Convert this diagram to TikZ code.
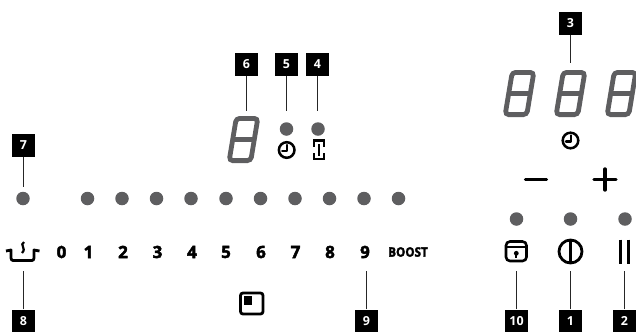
\documentclass[tikz,border=0pt]{standalone}
\usepackage{fontspec}
\setmainfont{Open Sans}[BoldFeatures={FakeBold=2.6}]
\newfontfamily\tagfont{Open Sans Bold}
\definecolor{dotc}{HTML}{5E5E60}
\tikzset{
  x=1bp,y=-1bp,
  tag/.style={fill=black,text=white,minimum width=23bp,minimum height=22.5bp,inner sep=0pt,font=\fontsize{12.5}{13}\tagfont},
  lead/.style={line width=1.3bp,draw=black!85},
  dot/.style={circle,fill=dotc,minimum size=13.5bp,inner sep=0pt},
  num/.style={inner sep=0pt,font=\fontsize{17}{17}\selectfont\bfseries},
  icon/.style={line width=2.5bp,draw=black},
  seg/.style={line width=4.8bp,draw=dotc,rounded corners=3.5bp}
}
\newcommand{\sevenseg}[2]{%
  \begin{scope}[shift={(#1,#2)}]
    \draw[seg] (9.2,2.4) -- (30.8,2.4) -- (23.8,44.6) -- (2.2,44.6) -- cycle;
    \draw[line width=4.6bp,draw=dotc] (5.7,23.5) -- (27.3,23.5);
  \end{scope}}
\newcommand{\clockicon}[2]{%
  \begin{scope}[shift={(#1,#2)}]
    \draw[icon] (0,0) circle (7.8);
    \draw[icon,line cap=round,line join=round] (0.3,-5) -- (0.3,0.8) -- (-4.5,0.8);
  \end{scope}}
\begin{document}
\begin{tikzpicture}
\useasboundingbox (0,0) rectangle (636,332);
% seven-segment displays
\sevenseg{227}{116}
\sevenseg{503}{70}
\sevenseg{554}{70}
\sevenseg{605}{70}
% lit dots
\foreach \n/\x/\y in {d7/23/198.5,a/87.5/198.5,b/122/198.5,c/156.5/198.5,d/191/198.5,e/226/198.5,f/260.5/198.5,g/295/198.5,h/329.5/198.5,i/364/198.5,j/398.5/198.5,d5/286.5/129,d4/318/129,d10/516.5/219,d1/570.5/219,d2/625/219}
  \node[dot] (\n) at (\x,\y) {};
% digits
\foreach \t/\x in {0/61.5,1/88.5,2/123,3/157.5,4/192,5/226,6/261,7/295.5,8/330,9/365}
  \node[num] (n\t) at (\x,252) {\t};
\node[inner sep=0pt,font=\fontsize{13}{14}\selectfont\bfseries,xscale=0.9] (boost) at (408,252) {BOOST};
% callout tags
\node[tag] (t6) at (246.5,64.5) {6};
\node[tag] (t5) at (286.5,64.5) {5};
\node[tag] (t4) at (317.5,64.5) {4};
\node[tag] (t3) at (570.5,23.5) {3};
\node[tag] (t7) at (23.5,145.5) {7};
\node[tag] (t8) at (23.5,320.8) {8};
\node[tag] (t9) at (366.5,320.8) {9};
\node[tag] (t10) at (516.5,320.8) {10};
\node[tag] (t1) at (570.5,320.8) {1};
\node[tag] (t2) at (624.5,320.8) {2};
\coordinate (e6) at (246.5,110.5);
\coordinate (e5) at (286.5,110.5);
\coordinate (e4) at (317.5,110.5);
\coordinate (e3) at (570.5,63);
\coordinate (e7) at (23.5,186.5);
\coordinate (e8) at (23.5,271);
\coordinate (e9) at (366.5,271);
\coordinate (e10) at (516.5,271);
\coordinate (e1) at (570.5,271);
\coordinate (e2) at (624.5,271);
\foreach \k in {6,5,4,3}
  \draw[lead] (t\k.south) -- (e\k);
\draw[lead] (t7) -- (e7);
\foreach \k in {8,9,10,1,2}
  \draw[lead] (t\k.north) -- (e\k);
% icons
\clockicon{286.7}{150}
\clockicon{570.5}{140.5}
\draw[icon] (313.8,146.5) -- (313.8,140.5) -- (323.8,140.5) -- (323.8,146.5);
\draw[icon] (313.8,153) -- (313.8,159) -- (323.8,159) -- (323.8,153);
\draw[icon,line width=2bp] (318.8,144) -- (318.8,156);
% plus and minus
\draw[icon,line width=3.4bp,line cap=round] (525.5,179.5) -- (546.5,179.5);
\draw[icon,line width=3.4bp,line cap=round] (594,179.5) -- (616,179.5);
\draw[icon,line width=3.4bp,line cap=round] (605,169) -- (605,190);
% lock
\draw[icon,line width=2.6bp,rounded corners=4bp] (506,241.5) rectangle (526.5,261);
\draw[icon,line width=2.4bp] (506,247) -- (526.5,247);
\fill (516.3,253.3) circle (2.4);
\draw[icon,line width=1.8bp] (516.3,253) -- (516.3,258);
% power
\draw[icon,line width=2.8bp] (570.5,251.5) circle (11.5);
\draw[icon,line width=3bp] (570.5,239) -- (570.5,264);
% pause
\draw[icon,line width=3bp] (620.5,239.5) -- (620.5,263.5);
\draw[icon,line width=3bp] (628.5,239.5) -- (628.5,263.5);
% pot
\draw[icon,line width=2.8bp,line join=round] (6,251) -- (11,250) -- (11,258) .. controls (11,259.5) and (12,260.5) .. (13,260.5) -- (32,260.5) .. controls (33,260.5) and (34,259.5) .. (34,258) -- (34,250) -- (39.5,251);
\draw[icon,line width=2.2bp] (24,242) .. controls (19,245) and (27,248) .. (22,253);
% zone icon
\draw[icon,line width=2.8bp,rounded corners=2.5bp] (240.5,293) rectangle (263,314);
\fill (243.5,296) rectangle (252,304.5);
\end{tikzpicture}
\end{document}
